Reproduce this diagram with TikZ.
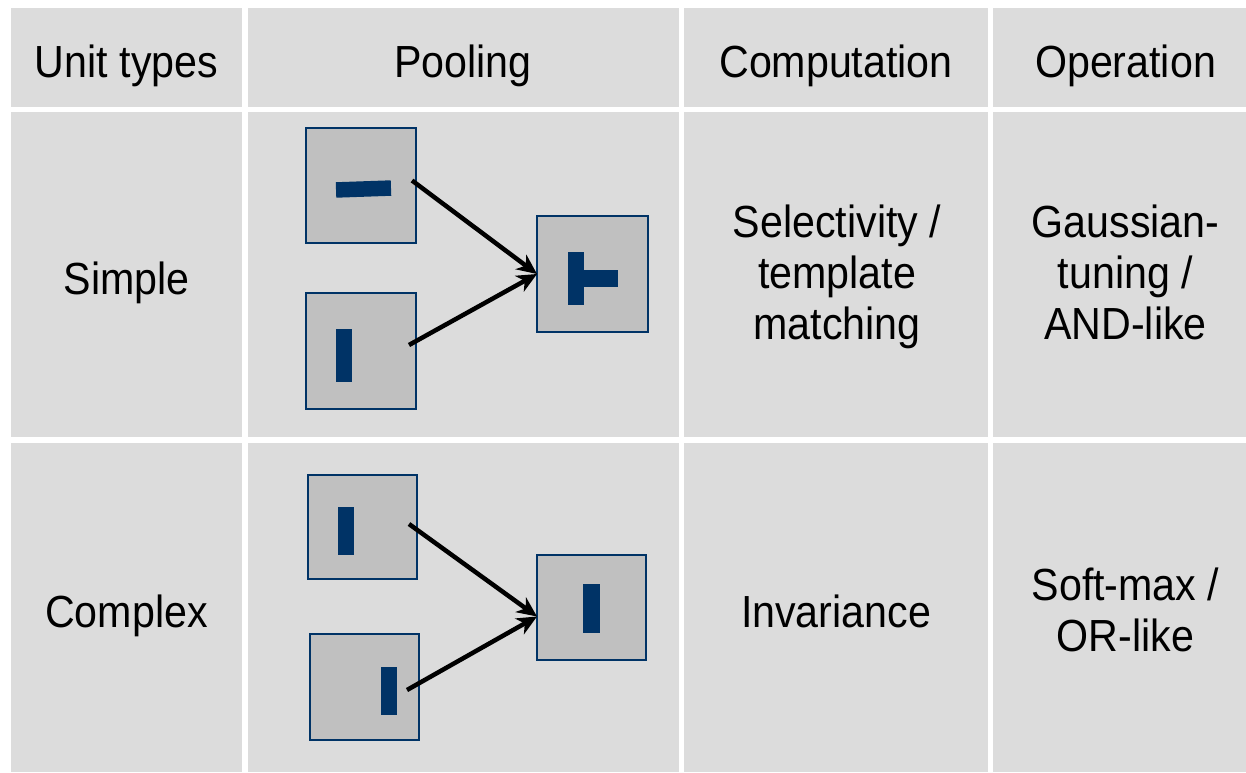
\documentclass[tikz,border=0pt]{standalone}
\usepackage{fontspec}
\setmainfont[FakeStretch=0.915]{Liberation Sans}
\usetikzlibrary{arrows.meta}
\definecolor{cellgray}{HTML}{DCDCDC}
\definecolor{boxgray}{HTML}{C0C0C0}
\definecolor{navy}{HTML}{003366}
\begin{document}
\begin{tikzpicture}[x=1pt,y=-1pt,
  label text/.style={font=\fontsize{45}{51}\selectfont, inner sep=0pt, align=center, anchor=base},
  unitbox/.style={draw=navy, line width=2.5pt, fill=boxgray, anchor=north west, inner sep=0pt, outer sep=0pt},
  bar/.style={fill=navy, inner sep=0pt, outer sep=0pt},
  link/.style={line width=4.5pt, -{Stealth[length=20pt,width=18pt,inset=6pt]}}]

% page
\useasboundingbox[fill=white] (0,0) rectangle (1246,772);

% table cells
\foreach \xa/\xb in {11/242, 248/678.5, 684/988, 993/1246}{
  \foreach \ya/\yb in {8/106.5, 112/437, 442.5/772}{
    \fill[cellgray] (\xa,\ya) rectangle (\xb,\yb);
  }
}

% header row
\node[label text] (hUnit) at (126.5,77) {Unit types};
\node[label text] (hPool) at (463,77) {Pooling};
\node[label text] (hComp) at (836,77) {Computation};
\node[label text] (hOp)   at (1125.5,77) {Operation};

% simple units (multi-line labels are placed by their last baseline)
\node[label text] (simple) at (126.5,294) {Simple};
\node[label text] (sel) at (837,339) {Selectivity /\\template\\matching};
\node[label text] (gauss) at (1125.5,339) {Gaussian-\\tuning /\\AND-like};

\node[unitbox, minimum width=110pt, minimum height=115pt] (s1) at (306,128) {};
\node[unitbox, minimum width=110pt, minimum height=116pt] (s2) at (306,293) {};
\node[unitbox, minimum width=111pt, minimum height=116pt] (st) at (537,216) {};
\node[bar, minimum width=55pt, minimum height=15.5pt, rotate=2] (s1bar) at (363.5,189) {};
\node[bar, minimum width=16pt, minimum height=53pt] (s2bar) at (344,355.5) {};
\node[bar, minimum width=16pt, minimum height=53pt] (stv) at (576,278.5) {};
\node[bar, minimum width=34pt, minimum height=17pt] (sth) at (601,278.5) {};

\coordinate (s1o) at ([xshift=-4pt,yshift=5pt]s1.east);
\coordinate (s2o) at ([xshift=-7pt,yshift=6pt]s2.east);
\draw[link] (s1o) -- (st.west);
\draw[link] (s2o) -- (st.west);

% complex units
\node[label text] (complex) at (126.5,627) {Complex};
\node[label text] (inv) at (836,627) {Invariance};
\node[label text] (soft) at (1125.5,651) {Soft-max /\\OR-like};

\node[unitbox, minimum width=109pt, minimum height=104pt] (c1) at (308,475) {};
\node[unitbox, minimum width=109pt, minimum height=106pt] (c2) at (310,634) {};
\node[unitbox, minimum width=109pt, minimum height=105pt] (ct) at (537,555) {};
\node[bar, minimum width=16pt, minimum height=48pt] (c1bar) at (346,531) {};
\node[bar, minimum width=16pt, minimum height=48pt] (c2bar) at (389,691) {};
\node[bar, minimum width=17pt, minimum height=49pt] (ctbar) at (591.5,608.5) {};

\coordinate (c1o) at ([xshift=-8pt,yshift=3pt]c1.east);
\coordinate (c2o) at ([xshift=-12pt,yshift=-3pt]c2.east);
\coordinate (cin) at ([yshift=-9pt]ct.west);
\draw[link] (c1o) -- (cin);
\draw[link] (c2o) -- (cin);
\end{tikzpicture}
\end{document}
